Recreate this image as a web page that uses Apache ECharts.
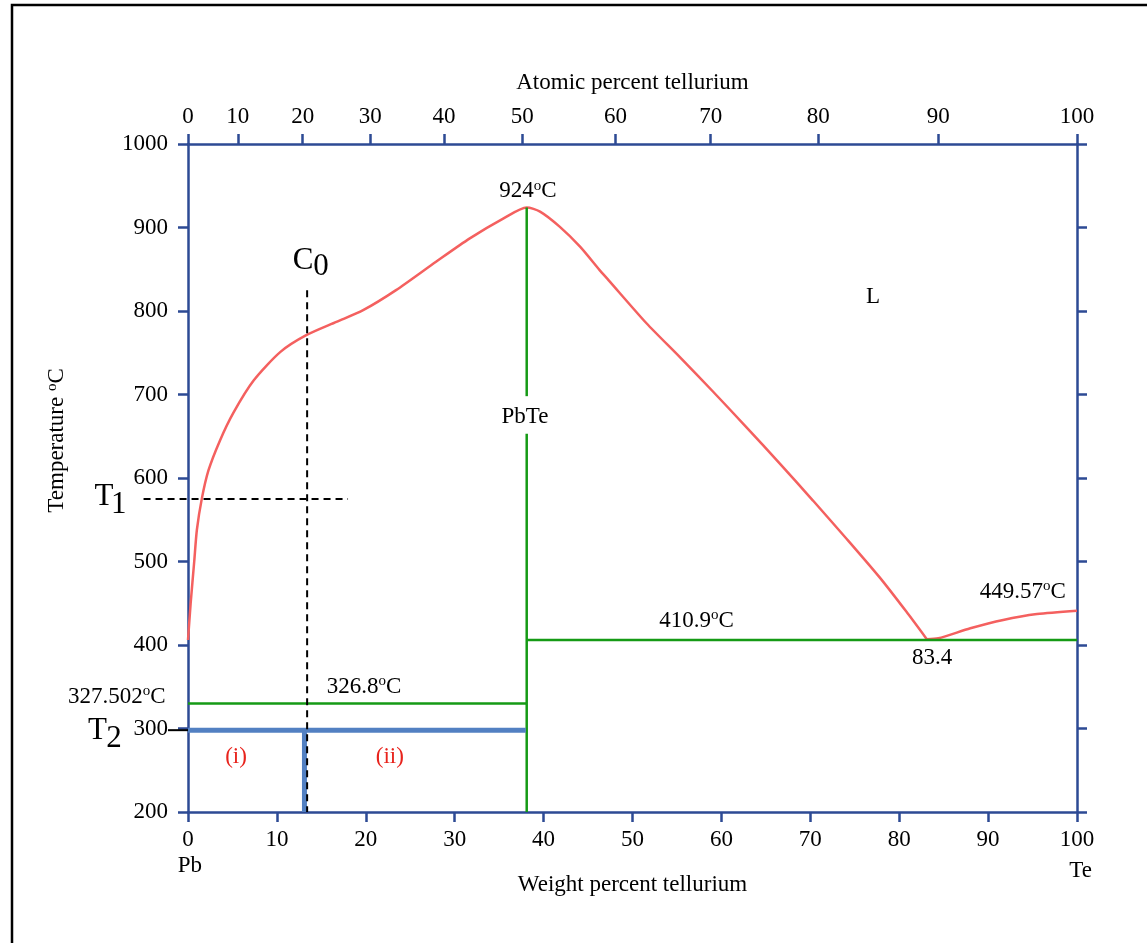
<!DOCTYPE html>
<html>
<head>
<meta charset="utf-8">
<script src="https://cdn.jsdelivr.net/npm/echarts@6/dist/echarts.min.js"></script>
<style>
html,body{margin:0;padding:0;background:#fff;}
#c{width:1147px;height:943px;}
</style>
</head>
<body>
<div id="c"></div>
<script>
// ---- data (weight % Te, temperature °C) ----
const weightTicks = [0,10,20,30,40,50,60,70,80,90,100];
const tempTicks = [200,300,400,500,600,700,800,900,1000];
// atomic percent labels on top axis and their positions in weight percent
const atomicLabels = ['0','10','20','30','40','50','60','70','80','90','100'];
const atomicPosWt = [0, 5.6, 12.9, 20.5, 28.8, 37.6, 48.1, 58.8, 70.9, 84.4, 100];

// liquidus from Pb side through PbTe maximum to the eutectic
const liquidusLeft = [
  [0,406],[0.3,450],[0.7,500],[1.0,538],[1.55,575],[2.3,609],[3.6,645],[5.1,678],[7.4,717],
  [10.4,751],[13.3,771],[16.7,787],[19.7,801],[23.4,825],[27.9,859],[31.7,887],
  [35.5,911],[38.1,924],[39.6,919],[41.8,901],[44.1,877],[46.3,849],[47.3,837],
  [51.6,785],[55.3,745],[59.1,703],[62.8,661],[66.6,617],[70.3,573],[74.1,527],
  [77.8,481],[80.8,440],[83.1,407]
];
// liquidus from eutectic to Te
const liquidusRight = [[83.1,407],[84.4,408],[88.0,420],[91.7,430],[95.5,437],[100,441]];

// PbTe compound line (with gap for label)
const pbteUpper = [[38.1,924],[38.1,698]];
const pbteLower = [[38.1,653],[38.1,200]];
// eutectic / monotectic isotherms
const isoLeft = [[0,330],[38.1,330]];
const isoRight = [[38.1,406],[100,406]];
// T2 cooling lines (blue)
const t2Horizontal = [[0,297.8],[38.0,297.8]];
const t2Vertical = [[13.1,297.8],[13.1,200]];
const t2Pointer = [[-2.25,298],[0,298]];
// C0 composition and T1 temperature (dashed)
const c0Line = [[13.4,825],[13.4,200]];
const t1Line = [[-5.0,575],[18.0,575]];

// text annotations [x, y, text, kind]
const annotations = [
  [12.94,859.7,'C','big'],[14.96,852.5,'0','big'],
  [-9.45,577.3,'T','big'],[-7.8,567.7,'1','big'],
  [-10.18,297.4,'T','big'],[-8.32,287.9,'2','big'],
  [38.25,943.4,'{n|924}{s|o}{n|C}','n'],
  [37.9,673,'PbTe','n'],
  [77.05,816.6,'L','n'],
  [57.2,428.9,'{n|410.9}{s|o}{n|C}','n'],
  [83.7,384.8,'83.4','n'],
  [93.9,463.7,'{n|449.57}{s|o}{n|C}','n'],
  [19.8,350,'{n|326.8}{s|o}{n|C}','n'],
  [-8.0,338,'{n|327.502}{s|o}{n|C}','n'],
  [5.4,266.3,'(i)','red'],
  [22.7,266.3,'(ii)','red'],
  [0.2,134.8,'Pb','n'],
  [100.4,128.8,'Te','n'],
  [-14.7,645,'{n|Temperature }{s|o}{n|C}','rot']
];

const FONT = 'Liberation Serif';
const AXIS = '#2d4a94';
const RED = '#f4605f';
const GREEN = '#159a15';
const BLUE = '#5280c2';

const rich = {
  n:{fontSize:23,fontFamily:FONT,color:'#000',lineHeight:26},
  s:{fontSize:15,fontFamily:FONT,color:'#000',lineHeight:15,verticalAlign:'top'}
};

function lineSeries(data, color, width, type, z){
  return {type:'line', data:data, showSymbol:false, symbol:'none', clip:false, silent:true,
    lineStyle:{color:color,width:width,type:type||'solid'}, z:z||2, animation:false};
}

// straight segment drawn through a custom series (can extend outside the grid)
function segmentSeries(seg, color, width, dash, z){
  return {type:'custom', clip:false, silent:true, z:z||4, animation:false,
    data:[[seg[0][0],seg[0][1],seg[1][0],seg[1][1]]],
    renderItem:function(params, api){
      const p1 = api.coord([api.value(0), api.value(1)]);
      const p2 = api.coord([api.value(2), api.value(3)]);
      return {type:'line', shape:{x1:p1[0],y1:p1[1],x2:p2[0],y2:p2[1]},
        style:{stroke:color, lineWidth:width, lineDash:dash||null}};
    }};
}

const annData = annotations.map(a => {
  const kind = a[3];
  const lbl = {show:true, position:'inside', formatter:a[2], fontFamily:FONT, color:'#000', fontSize:23, rich:rich, opacity:1};
  if (kind==='big') { lbl.fontSize = 31; }
  if (kind==='red') { lbl.color = '#e8231c'; }
  if (kind==='rot') { lbl.rotate = 90; }
  return {value:[a[0],a[1]], label:lbl};
});

const axisCommon = {
  axisLine:{show:true, onZero:false, lineStyle:{color:AXIS,width:2.5}},
  axisTick:{show:true, inside:false, length:10, lineStyle:{color:AXIS,width:2.5}},
  splitLine:{show:false},
  axisLabel:{color:'#000', fontFamily:FONT, fontSize:23, formatter:function(v){return String(v);}}
};

const chart = echarts.init(document.getElementById('c'), null, {renderer:'canvas'});
chart.setOption({
  animation:false,
  backgroundColor:'#fff',
  grid:{left:188, right:70, top:144, bottom:131, containLabel:false},
  xAxis:[
    Object.assign({}, axisCommon, {
      type:'value', position:'bottom', min:0, max:100, interval:10,
      axisLabel:Object.assign({}, axisCommon.axisLabel, {margin:16, showMinLabel:true, showMaxLabel:true}),
      name:'Weight percent tellurium', nameLocation:'middle', nameGap:61,
      nameTextStyle:{color:'#000', fontFamily:FONT, fontSize:23}
    }),
    Object.assign({}, axisCommon, {
      type:'value', position:'top', min:0, max:100,
      axisTick:Object.assign({}, axisCommon.axisTick, {customValues:atomicPosWt}),
      axisLabel:Object.assign({}, axisCommon.axisLabel, {margin:16, customValues:atomicPosWt,
        formatter:function(v){ const i = atomicPosWt.indexOf(v); return i>=0 ? atomicLabels[i] : ''; }}),
      name:'Atomic percent tellurium', nameLocation:'middle', nameGap:50,
      nameTextStyle:{color:'#000', fontFamily:FONT, fontSize:23}
    })
  ],
  yAxis:[
    Object.assign({}, axisCommon, {
      type:'value', position:'left', min:200, max:1000, interval:100,
      axisLabel:Object.assign({}, axisCommon.axisLabel, {margin:20, showMinLabel:true, showMaxLabel:true})
    }),
    Object.assign({}, axisCommon, {
      type:'value', position:'right', min:200, max:1000, interval:100,
      axisLabel:{show:false}
    })
  ],
  graphic:[{type:'rect', shape:{x:12, y:5, width:1300, height:1100}, style:{fill:'none', stroke:'#000', lineWidth:2.5}, silent:true}],
  series:[
    Object.assign(lineSeries(liquidusLeft, RED, 2.5), {smooth:0.25}),
    Object.assign(lineSeries(liquidusRight, RED, 2.5), {smooth:0.25}),
    lineSeries(pbteUpper, GREEN, 2.5),
    lineSeries(pbteLower, GREEN, 2.5),
    lineSeries(isoLeft, GREEN, 2.5),
    lineSeries(isoRight, GREEN, 2.5),
    lineSeries(t2Horizontal, BLUE, 5, 'solid', 3),
    lineSeries(t2Vertical, BLUE, 5, 'solid', 3),
    segmentSeries(t2Pointer, '#000', 2, null, 4),
    segmentSeries(c0Line, '#000', 2, [7,5], 4),
    segmentSeries(t1Line, '#000', 2, [7,5], 4),
    {type:'scatter', data:annData, symbol:'circle', symbolSize:1, clip:false, silent:true,
      itemStyle:{color:'rgba(0,0,0,0)', opacity:1}, z:5, animation:false}
  ]
});
</script>
</body>
</html>
